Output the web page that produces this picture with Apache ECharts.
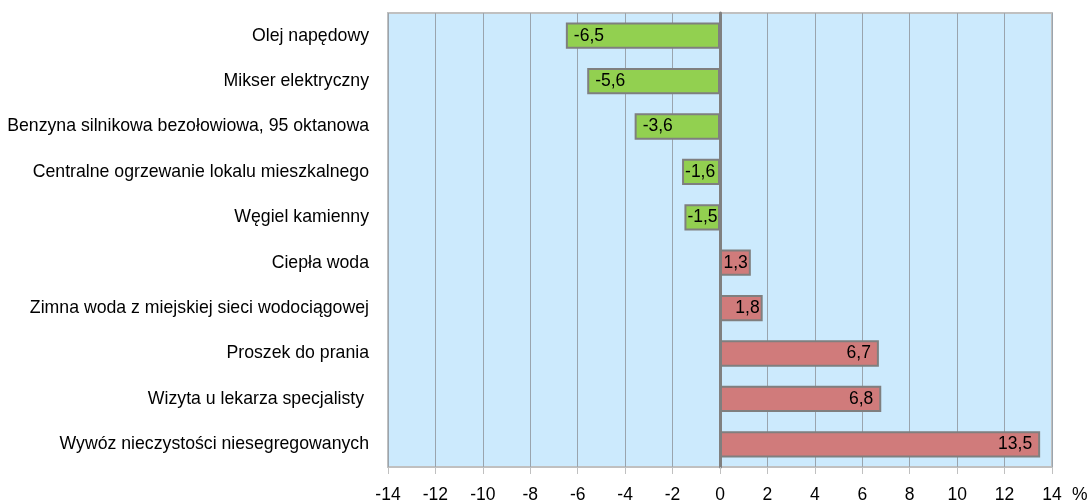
<!DOCTYPE html>
<html><head><meta charset="utf-8">
<script src="https://cdn.jsdelivr.net/npm/echarts@6/dist/echarts.min.js"></script>
<style>html,body{margin:0;padding:0;background:#fff}#c{width:1091px;height:504px}</style>
</head><body><div id="c"></div>
<script>
const categories = ["Olej napędowy","Mikser elektryczny","Benzyna silnikowa bezołowiowa, 95 oktanowa","Centralne ogrzewanie lokalu mieszkalnego","Węgiel kamienny","Ciepła woda","Zimna woda z miejskiej sieci wodociągowej","Proszek do prania","Wizyta u lekarza specjalisty ","Wywóz nieczystości niesegregowanych"];
const values = [-6.5,-5.6,-3.6,-1.6,-1.5,1.3,1.8,6.7,6.8,13.5];
const xTicks = {min:-14, max:14, interval:2};
const unit = "%";

const font = "'Liberation Sans', Arial, sans-serif";
const chart = echarts.init(document.getElementById('c'));
chart.setOption({
  animation:false,
  grid:{left:388,right:39,top:13,bottom:36,show:true,backgroundColor:'#cceafd',borderColor:'#c0c0c0',borderWidth:2},
  xAxis:{type:'value',min:xTicks.min,max:xTicks.max,interval:xTicks.interval,
    name:unit,nameLocation:'end',nameGap:20,
    nameTextStyle:{color:'#000',fontSize:17.5,fontFamily:font,verticalAlign:'top',padding:[19,0,0,0]},
    axisLine:{show:false},
    axisTick:{show:true,length:7,lineStyle:{color:'#c0c0c0'}},
    axisLabel:{color:'#000',fontSize:17.5,fontFamily:font,margin:19,formatter:v=>String(v)},
    splitLine:{show:true,lineStyle:{color:'#9aa4ad',width:1}}},
  yAxis:{type:'category',data:categories,inverse:true,
    axisLine:{show:true,onZero:true,lineStyle:{color:'#808080',width:3}},
    axisTick:{show:false},
    axisLabel:{color:'#000',fontSize:17.7,fontFamily:font,margin:19},
    splitLine:{show:false}},
  series:[{type:'bar',data:values.map(v=>({value:v,itemStyle:{color:v<0?'#92d050':'#d07b7b'},
      label:{position:v<0?'insideLeft':'insideRight',distance:Math.abs(v)>3?8:3}})),
    barCategoryGap:'42%',
    itemStyle:{borderColor:'#7f7f7f',borderWidth:2},
    label:{show:true,color:'#000',fontSize:17.5,fontFamily:font,formatter:p=>String(p.value).replace('.',',')}
  }]
});
</script></body></html>
